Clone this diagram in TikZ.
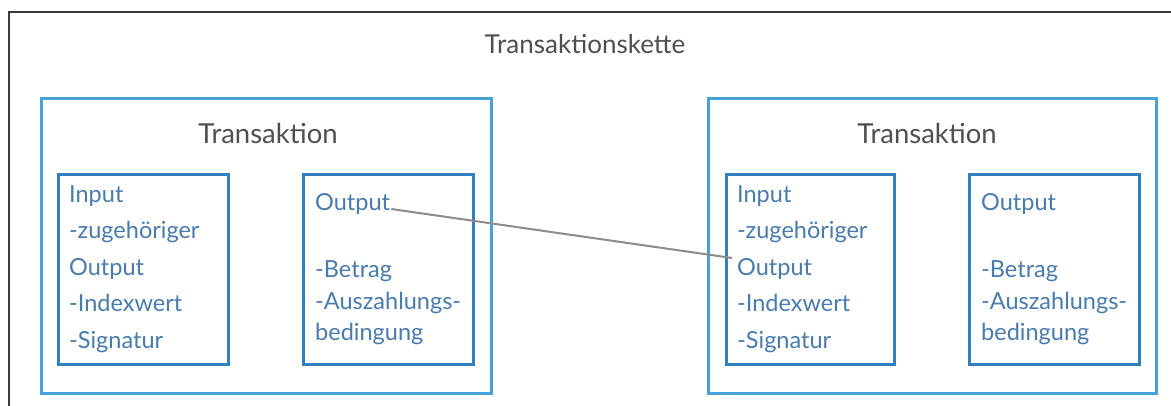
\documentclass[tikz,border=0pt]{standalone}
\usepackage{fontspec}
\setmainfont{Lato}
\definecolor{framecol}{HTML}{3A3A3A}
\definecolor{transcol}{HTML}{45A3D8}
\definecolor{innercol}{HTML}{3380C0}
\definecolor{textcol}{HTML}{4A7BAD}
\definecolor{headcol}{HTML}{4F4F4F}
\definecolor{linecol}{HTML}{8C8C8C}
\tikzset{
  transbox/.style={draw=transcol, line width=3pt, rectangle, inner sep=0pt, anchor=north west},
  innerbox/.style={draw=innercol, line width=3pt, rectangle, inner sep=0pt, anchor=north west},
  headtext/.style={text=headcol, font=\fontsize{27.5}{32}\selectfont, anchor=base, inner sep=0pt},
  titletext/.style={text=headcol, font=\fontsize{26}{30}\selectfont, anchor=base, inner sep=0pt},
  itemtext/.style={text=textcol, font=\fontsize{23.5}{27}\selectfont, anchor=base west, inner sep=0pt},
  chain/.style={draw=linecol, line width=2pt},
  frameline/.style={draw=framecol, line width=2pt}
}
\begin{document}
\begin{tikzpicture}[x=1pt,y=-1pt]
\useasboundingbox (0,0) rectangle (1171,405);
\fill[white] (0,0) rectangle (1171,405);
% outer frame
\coordinate (fbl) at (9,406);
\coordinate (ftl) at (9,12);
\coordinate (ftr) at (1172,12);
\draw[frameline] (fbl) -- (ftl) -- (ftr);
\node[titletext] (title) at (585,53) {Transaktionskette};

% left transaction
\node[transbox, minimum width=450pt, minimum height=295pt] (tA) at (40,97) {};
\node[headtext] (hA) at (268,143) {Transaktion};
\node[innerbox, minimum width=170pt, minimum height=190pt] (inA) at (57,173) {};
\node[innerbox, minimum width=170pt, minimum height=190pt] (outA) at (302,173) {};
\node[itemtext] (inA1) at (69,202) {Input};
\node[itemtext] (inA2) at (69,238.5) {-zugehöriger};
\node[itemtext] (inA3) at (69,275) {Output};
\node[itemtext] (inA4) at (69,311.5) {-Indexwert};
\node[itemtext] (inA5) at (69,348) {-Signatur};
\node[itemtext] (outA1) at (315,210) {Output};
\node[itemtext] (outA2) at (315,277) {-Betrag};
\node[itemtext] (outA3) at (315,309) {-Auszahlungs-};
\node[itemtext] (outA4) at (315,340) {bedingung};

% right transaction
\node[transbox, minimum width=448pt, minimum height=295pt] (tB) at (707,97) {};
\node[headtext] (hB) at (927,143) {Transaktion};
\node[innerbox, minimum width=168pt, minimum height=190pt] (inB) at (725,173) {};
\node[innerbox, minimum width=170pt, minimum height=190pt] (outB) at (968,173) {};
\node[itemtext] (inB1) at (737,202) {Input};
\node[itemtext] (inB2) at (737,238.5) {-zugehöriger};
\node[itemtext] (inB3) at (737,275) {Output};
\node[itemtext] (inB4) at (737,311.5) {-Indexwert};
\node[itemtext] (inB5) at (737,348) {-Signatur};
\node[itemtext] (outB1) at (981,210) {Output};
\node[itemtext] (outB2) at (981,277) {-Betrag};
\node[itemtext] (outB3) at (981,309) {-Auszahlungs-};
\node[itemtext] (outB4) at (981,340) {bedingung};

% chain link
\draw[chain] ([xshift=1pt,yshift=1pt]outA1.base east) -- ([xshift=-5pt,yshift=17pt]inB3.base west);
\end{tikzpicture}
\end{document}
